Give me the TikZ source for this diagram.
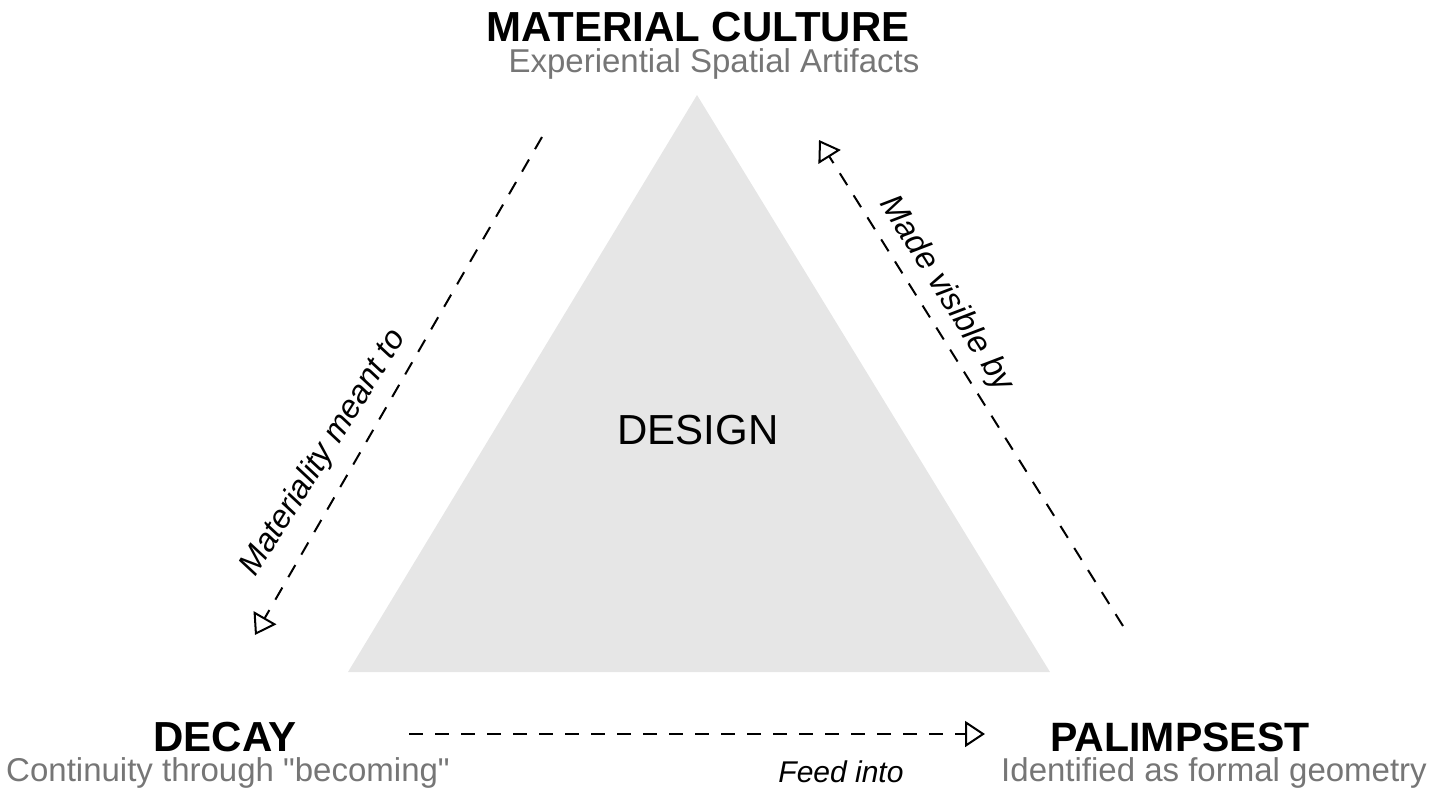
\documentclass[tikz,border=0pt]{standalone}
\usepackage{fontspec}
\setmainfont{Liberation Sans}[Ligatures=TeXOff]
\usetikzlibrary{arrows.meta}
\definecolor{subgray}{RGB}{118,118,118}
\definecolor{trifill}{RGB}{230,230,230}
\begin{document}
\begin{tikzpicture}[x=1pt,y=-1pt,
  title/.style={font=\fontsize{42}{50}\selectfont\bfseries, anchor=base, inner sep=0pt},
  subtitle/.style={font=\fontsize{33}{40}\selectfont, text=subgray, anchor=base, inner sep=0pt},
  lbl/.style={font=\fontsize{30}{36}\selectfont\itshape, anchor=base, inner sep=0pt},
  dlbl/.style={font=\fontsize{32.5}{39}\selectfont\itshape, anchor=center, inner sep=0pt},
  centre/.style={font=\fontsize{42}{50}\selectfont, anchor=base, inner sep=0pt},
  conn/.style={line width=2pt, dash pattern=on 14pt off 12pt, -{Triangle[open,length=20pt,width=26pt]}}
]
\useasboundingbox (0,0) rectangle (1438,789);
% triangle
\coordinate (apex) at (697,95);
\coordinate (bl) at (348,672);
\coordinate (br) at (1050,672);
\fill[trifill] (apex) -- (bl) -- (br) -- cycle;
\node[centre] (design) at (698,444) {DESIGN};
% titles
\node[title] (mc) at (698,41.5) {MATERIAL CULTURE};
\node[subtitle] (mcs) at (714,72.5) {Experiential Spatial Artifacts};
\node[title] (decay) at (225,751.5) {DECAY};
\node[title, font=\fontsize{41}{49}\selectfont\bfseries] (pal) at (1180,751.5) {PALIMPSEST};
\node[subtitle] (decs) at (228,781) {Continuity through "becoming"};
\node[subtitle] (pals) at (1214,781) {Identified as formal geometry};
% connectors
\coordinate (l1) at (542,137);
\coordinate (l2) at (255,635);
\coordinate (r1) at (1123,626);
\coordinate (r2) at (819,140);
\coordinate (h1) at (409,734);
\coordinate (h2) at (985,734);
\draw[conn] (l1) -- (l2);
\draw[conn] (r1) -- (r2);
\draw[conn] (h1) -- (h2);
% labels
\node[dlbl, rotate=58] (lm) at (324,453) {Materiality meant to};
\node[dlbl, rotate=-58] (rm) at (946,294) {Made visible by};
\node[lbl] (fi) at (841,782) {Feed into};
\end{tikzpicture}
\end{document}
